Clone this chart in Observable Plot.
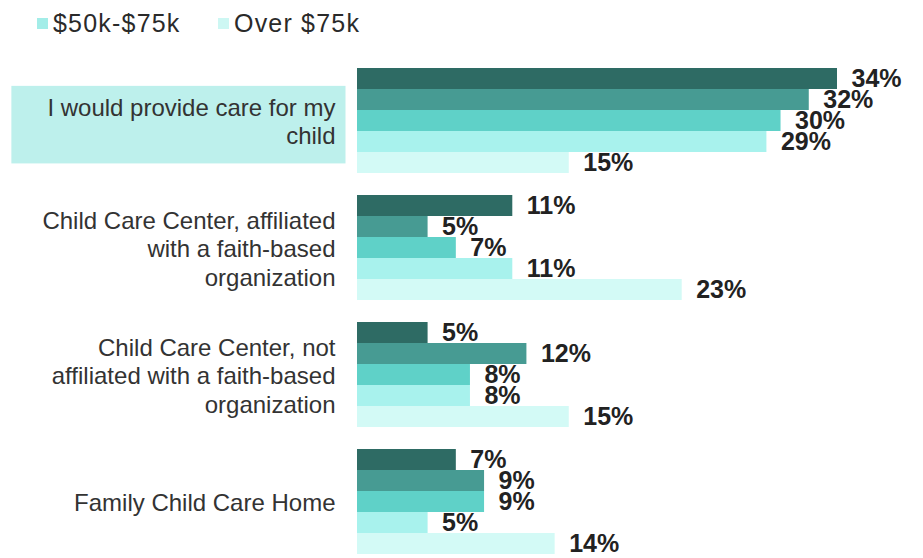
<!DOCTYPE html>
<html>
<head>
<meta charset="utf-8">
<script src="https://cdn.jsdelivr.net/npm/d3@7"></script>
<script src="https://cdn.jsdelivr.net/npm/@observablehq/plot@0.6"></script>
<style>
  html, body { margin: 0; padding: 0; background: #fff; }
  body { width: 923px; height: 558px; overflow: hidden; font-family: "Liberation Sans", Arial, sans-serif; }
  #legend { position: relative; height: 45px; }
  .item { position: absolute; top: 9px; display: flex; align-items: center; font-size: 25px; color: #2a2a2a; letter-spacing: 1.2px; }
  .sw { width: 11px; height: 11px; margin-right: 5px; }
</style>
</head>
<body>
<div id="legend"></div>
<div id="chart"></div>
<script>
const categories = [
  "I would provide care for my\nchild",
  "Child Care Center, affiliated\nwith a faith-based\norganization",
  "Child Care Center, not\naffiliated with a faith-based\norganization",
  "Family Child Care Home"
];
const highlighted = categories[0];
const series = ["Income group 1", "Income group 2", "Income group 3", "$50k-$75k", "Over $75k"];
const legendSeries = ["$50k-$75k", "Over $75k"];
const colors = ["#2e6b64", "#479b93", "#5fd1c8", "#a8f2ed", "#d3faf6"];
const legendColors = ["#a3ede8", "#cdf7f3"];

const group1 = [34, 11, 5, 7];
const group2 = [32, 5, 12, 9];
const group3 = [30, 7, 8, 9];
const group4 = [29, 11, 8, 5];
const group5 = [15, 23, 15, 14];
const seriesValues = [group1, group2, group3, group4, group5];

const data = [];
categories.forEach((c, i) => {
  series.forEach((s, j) => data.push({category: c, series: s, value: seriesValues[j][i]}));
});

// legend
const legend = document.getElementById("legend");
const legendX = [37, 218];
legendSeries.forEach((s, i) => {
  const it = document.createElement("div");
  it.className = "item";
  it.style.left = legendX[i] + "px";
  const sw = document.createElement("span");
  sw.className = "sw";
  sw.style.background = legendColors[i];
  const t = document.createElement("span");
  t.textContent = s;
  it.appendChild(sw); it.appendChild(t);
  legend.appendChild(it);
});

const chart = Plot.plot({
  width: 923,
  height: 513,
  marginLeft: 357,
  marginRight: 86,
  marginTop: 23,
  marginBottom: 3,
  style: {fontFamily: "'Liberation Sans', Arial, sans-serif", background: "transparent"},
  x: {domain: [0, 34], axis: null},
  y: {domain: series, padding: 0, axis: null},
  fy: {domain: categories, paddingInner: 0.173, paddingOuter: 0, axis: null},
  color: {domain: series, range: colors},
  marks: [
    Plot.barX(data, {x: "value", y: "series", fy: "category", fill: "series"}),
    Plot.text(data, {x: "value", y: "series", fy: "category", text: d => d.value + "%",
      textAnchor: "start", dx: 14, fontWeight: "bold", fontSize: 25, fill: "#222"}),
    Plot.text(categories, {fy: d => d, text: d => d, frameAnchor: "left", textAnchor: "end",
      dx: -22, fontSize: 24, lineHeight: 1.19, fill: "#333"})
  ]
});
document.getElementById("chart").appendChild(chart);

// highlight box behind the first category label
const target = highlighted.replace(/\n/g, "");
chart.querySelectorAll("text").forEach(t => {
  if (t.textContent === target) {
    const b = t.getBBox();
    const r = document.createElementNS("http://www.w3.org/2000/svg", "rect");
    r.setAttribute("x", b.x - 36);
    r.setAttribute("y", b.y - 8);
    r.setAttribute("width", b.width + 46);
    r.setAttribute("height", b.height + 22);
    r.setAttribute("fill", "#bdf0ec");
    if (t.getAttribute("transform")) r.setAttribute("transform", t.getAttribute("transform"));
    t.parentNode.insertBefore(r, t);
  }
});
</script>
</body>
</html>
